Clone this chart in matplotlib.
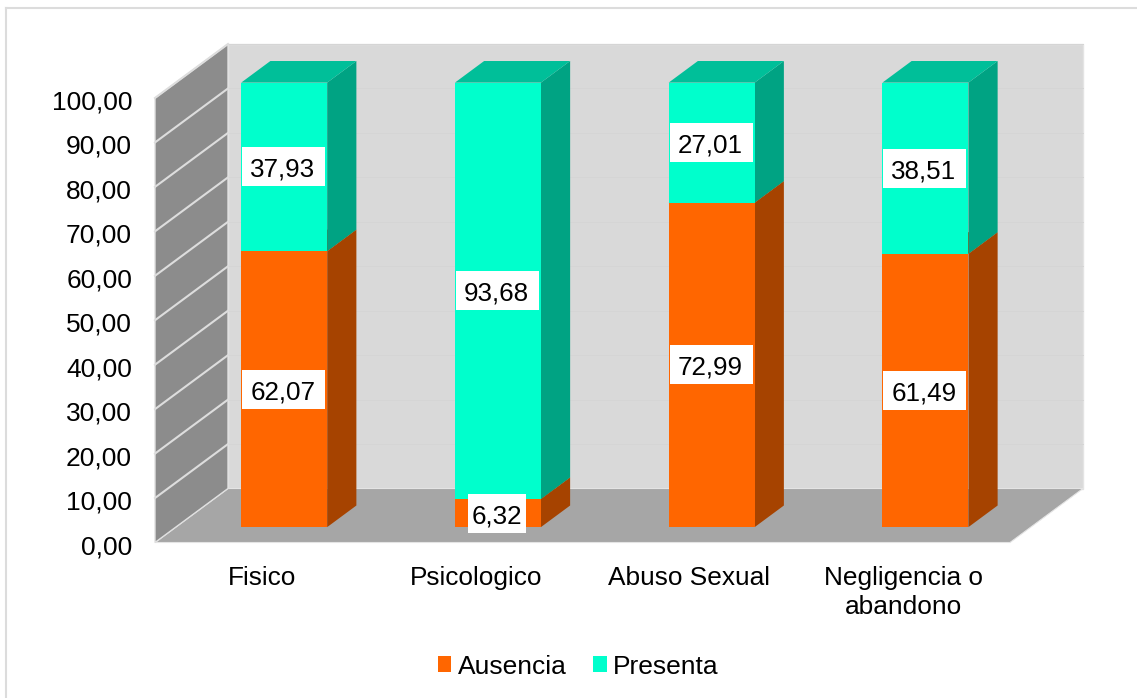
import matplotlib
matplotlib.use("Agg")
import matplotlib.pyplot as plt
from matplotlib.patches import Polygon, Patch, Rectangle
from matplotlib.lines import Line2D
from matplotlib.transforms import ScaledTranslation

plt.rcParams['font.family'] = ['Liberation Sans', 'DejaVu Sans']

categories = ["Fisico", "Psicologico", "Abuso Sexual", "Negligencia o\nabandono"]
ausencia = [62.07, 6.32, 72.99, 61.49]
presenta = [37.93, 93.68, 27.01, 38.51]
ausencia_labels = ["62,07", "6,32", "72,99", "61,49"]
presenta_labels = ["37,93", "93,68", "27,01", "38,51"]
yticks = list(range(0, 101, 10))

W, H = 1137, 698
fig = plt.figure(figsize=(W / 100, H / 100), dpi=100, facecolor="white")
L, R, T, B = 155, 1010, 98, 542.5
ax = fig.add_axes([L / W, 1 - B / H, (R - L) / W, (B - T) / H])
ax.set_xlim(0, 4)
ax.set_ylim(0, 100)
ax.patch.set_visible(False)
for s in ax.spines.values():
    s.set_visible(False)

UX = (R - L) / 4      # pixels per category
UY = (B - T) / 100    # pixels per value unit
DX = 73 / UX
DY = 54 / UY


def p(x, y, d=0.0):
    return (x + DX * d, y + DY * d)


def poly(pts, color, z, ec=None, lw=0):
    ax.add_patch(Polygon(pts, closed=True, facecolor=color, edgecolor=ec or color,
                         linewidth=lw, zorder=z, clip_on=False))


# walls and floor
poly([p(0, 0, 1), p(4, 0, 1), p(4, 100, 1), p(0, 100, 1)], "#D9D9D9", 1, "#E4E4E4", 1)
poly([p(0, 0), p(4, 0), p(4, 0, 1), p(0, 0, 1)], "#A6A6A6", 2, "#E4E4E4", 0.8)
poly([p(0, 0), p(0, 0, 1), p(0, 100, 1), p(0, 100)], "#8C8C8C", 2, "#E0E0E0", 1)
for v in yticks[1:]:
    a, b = p(0, v), p(0, v, 1)
    ax.plot([a[0], b[0]], [a[1], b[1]], color="#DDDDDD", lw=1.5, zorder=3, clip_on=False)
    c = p(4, v, 1)
    ax.plot([b[0], c[0]], [b[1], c[1]], color="#D5D5D5", lw=0.7, zorder=1.5, clip_on=False)

# bars
BW = 86 / UX
SHIFT = 1.5 / UX
D0, D1 = 0.285, 0.685
ORANGE = ("#FF6600", "#A64300", "#BF4D00")
TEAL = ("#00FFCC", "#00A383", "#00BF99")
text_drop = ScaledTranslation(0, -3 / 100, fig.dpi_scale_trans)


def box(xc, y0, y1, cols, z):
    x0, x1 = xc - BW / 2, xc + BW / 2
    poly([p(x1, y0, D0), p(x1, y0, D1), p(x1, y1, D1), p(x1, y1, D0)], cols[1], z)
    poly([p(x0, y1, D0), p(x1, y1, D0), p(x1, y1, D1), p(x0, y1, D1)], cols[2], z)
    poly([p(x0, y0, D0), p(x1, y0, D0), p(x1, y1, D0), p(x0, y1, D0)], cols[0], z + 0.1)


for i in range(len(categories)):
    xc = i + 0.5 + SHIFT
    a, t = ausencia[i], presenta[i]
    box(xc, 0, a, ORANGE, 5)
    box(xc, a, a + t, TEAL, 6)
    for y, lab in ((a / 2, ausencia_labels[i]), (a + t / 2, presenta_labels[i])):
        q = p(xc, y, D0)
        w = (83 if len(lab) == 5 else 58) / UX
        h = 39 / UY
        ax.add_patch(Rectangle((q[0] - w / 2 - 0.5 / UX, q[1] - h / 2), w, h, fc="white", ec="none",
                               zorder=9, clip_on=False))
        ax.text(q[0] - 1.5 / UX, q[1], lab, ha="center", va="center", fontsize=18.7, color="black",
                zorder=10, clip_on=False, transform=ax.transData + text_drop)

# axes text
ax.set_yticks(yticks)
ax.set_yticklabels([f"{v},00" for v in yticks], fontsize=19, color="black")
ax.set_xticks([i + 0.5 for i in range(4)])
ax.set_xticklabels(categories, fontsize=18.9, color="black", linespacing=1.25)
ax.tick_params(axis="both", length=0)
ax.tick_params(axis="y", pad=16.5)
ax.tick_params(axis="x", pad=17)
for lab in ax.get_yticklabels():
    lab.set_transform(lab.get_transform() + ScaledTranslation(0, -2 / 100, fig.dpi_scale_trans))

# legend
handles = [Patch(facecolor="#FF6600", label="Ausencia"), Patch(facecolor="#00FFCC", label="Presenta")]
fig.legend(handles=handles, loc="center", bbox_to_anchor=(578.5 / W, 1 - 666.5 / H), ncol=2, frameon=False,
           fontsize=19, handlelength=0.5, handleheight=0.55, handletextpad=0.25, columnspacing=1.0)

# chart frame: only the top and left rules fall inside the picture
fig.add_artist(Line2D([6 / W, 1], [1 - 7.5 / H] * 2, transform=fig.transFigure, color="#DCDCDC", lw=1.5))
fig.add_artist(Line2D([6 / W, 6 / W], [0, 1 - 7.5 / H], transform=fig.transFigure, color="#DCDCDC", lw=1.5))

fig.savefig("out.png", dpi=100)
